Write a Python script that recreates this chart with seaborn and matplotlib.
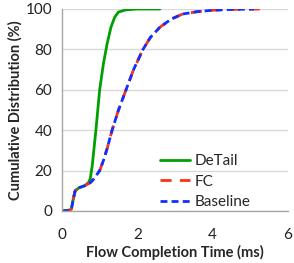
import matplotlib
matplotlib.use("Agg")
import matplotlib.pyplot as plt
import seaborn as sns
import pandas as pd

detail_x = [0, 0.2, 0.25, 0.3, 0.35, 0.45, 0.6, 0.7, 0.75, 0.8, 0.85, 0.9, 0.95, 1.0, 1.1, 1.2, 1.3, 1.4, 1.5, 1.7, 2.0, 2.6]
detail_y = [0, 0.5, 1, 6, 10, 11.5, 12.5, 14, 16, 22, 31, 40, 50, 60, 73, 83, 91, 96, 98.5, 99.6, 100, 100]

fc_x = [0, 0.2, 0.25, 0.3, 0.35, 0.45, 0.6, 0.75, 0.85, 1.0, 1.1, 1.2, 1.33, 1.5, 1.7, 1.9, 2.15, 2.35, 2.6, 2.9, 3.2, 3.6, 4.0, 4.5, 5.25]
fc_y = [0, 0.3, 1, 6, 10, 11.5, 12.5, 14, 16, 20, 25, 31, 40, 50, 60, 70, 80, 86, 91, 95, 97.5, 98.7, 99.4, 99.8, 100]

base_x = [0, 0.2, 0.25, 0.3, 0.35, 0.45, 0.6, 0.75, 0.85, 1.0, 1.1, 1.2, 1.33, 1.5, 1.7, 1.9, 2.15, 2.35, 2.6, 2.9, 3.2, 3.6, 4.0, 4.5, 5.1]
base_y = [0, 0.3, 1, 6, 10, 11.5, 12.5, 14, 16, 20, 25, 31, 40, 50, 60, 70, 80, 86, 91, 95, 97.5, 98.7, 99.4, 99.8, 100]

x_ticks = [0, 2, 4, 6]
y_ticks = [0, 20, 40, 60, 80, 100]

df = pd.concat([
    pd.DataFrame({"x": detail_x, "y": detail_y, "s": "DeTail"}),
    pd.DataFrame({"x": fc_x, "y": fc_y, "s": "FC"}),
    pd.DataFrame({"x": base_x, "y": base_y, "s": "Baseline"}),
])

sns.set_style("white")
plt.rcParams['font.family'] = ['Lato', 'DejaVu Sans']

fig = plt.figure(figsize=(2.94, 2.63), dpi=100)
ax = fig.add_axes([62/294, (263-211)/263, (288-62)/294, (211-9)/263])

palette = {"DeTail": "#00a000", "FC": "#ff3010", "Baseline": "#1030ff"}
styles = {"DeTail": (None, None), "FC": (4, 3), "Baseline": (2.5, 1.5)}
for name in ["DeTail", "FC", "Baseline"]:
    sub = df[df["s"] == name]
    kw = {}
    if name != "DeTail":
        kw["dashes"] = styles[name]
    sns.lineplot(data=sub, x="x", y="y", ax=ax, color=palette[name], lw=2,
                 label=name, estimator=None, sort=False, **kw)

ax.set_xlim(0, 6)
ax.set_ylim(0, 100)
ax.set_xticks(x_ticks)
ax.set_yticks(y_ticks)
ax.yaxis.grid(True, color="#d9d9d9", lw=1)
ax.set_axisbelow(True)
for sp in ["top", "right"]:
    ax.spines[sp].set_visible(False)
for sp in ["left", "bottom"]:
    ax.spines[sp].set_color("#a6a6a6")
    ax.spines[sp].set_linewidth(1)
ax.tick_params(axis="both", direction="out", length=4, color="#a6a6a6", labelsize=11, labelcolor="#222222")
ax.tick_params(axis="x", pad=8)
ax.tick_params(axis="y", pad=3)
ax.set_xlabel("Flow Completion Time (ms)", fontsize=10.5, fontweight="bold", labelpad=2)
ax.set_ylabel("Cumulative Distribution (%)", fontsize=10.5, fontweight="bold", labelpad=2)

leg = ax.legend(loc="lower right", frameon=False, fontsize=11, handlelength=2.0,
                handletextpad=0.3, labelspacing=0.42, borderaxespad=0, borderpad=0,
                bbox_to_anchor=(0.836, 0.01))

fig.savefig("out.png", dpi=100)
